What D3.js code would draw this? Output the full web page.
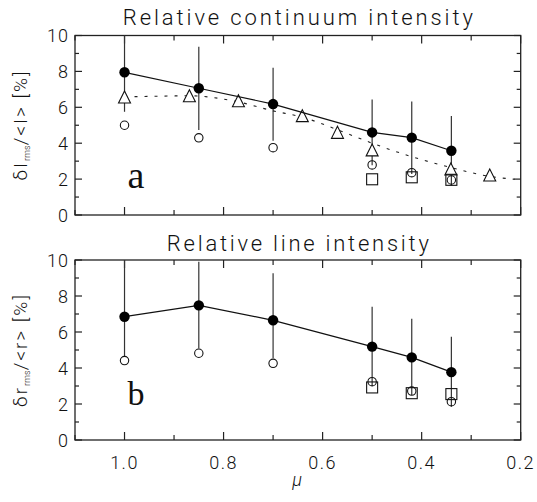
<!DOCTYPE html>
<html>
<head>
<meta charset="utf-8">
<title>Relative intensity</title>
<script src="https://cdn.jsdelivr.net/npm/d3@7"></script>
<style>
  body { margin: 0; background: #fff; }
  text { font-family: "Roboto", "Liberation Sans", "DejaVu Sans", sans-serif; font-weight: 300; fill: #111; }
  .frame { fill: none; stroke: #222; stroke-width: 1.3; }
  .tick { stroke: #222; stroke-width: 1.2; }
</style>
</head>
<body>
<div id="chart"></div>
<script>
// mu positions of the six observed points
var mu = [1.0, 0.85, 0.7, 0.5, 0.42, 0.34];
var squareMu = [0.5, 0.42, 0.34];

// panel a: relative continuum intensity
var contFilled = [7.95, 7.06, 6.18, 4.6, 4.31, 3.58];
var contHi = [10.3, 9.38, 8.2, 6.43, 6.33, 5.52];
var contLo = [5.75, 4.74, 4.14, 2.77, 2.29, 1.64];
var contOpen = [5.0, 4.3, 3.75, 2.79, 2.36, 1.95];
var contSquare = [1.99, 2.1, 1.96];
var triMu = [1.0, 0.869, 0.77, 0.641, 0.57, 0.5, 0.341, 0.2625];
var triVal = [6.52, 6.59, 6.31, 5.48, 4.55, 3.57, 2.51, 2.17];
var fitMu = [1.0, 0.93, 0.87, 0.77, 0.7, 0.641, 0.57, 0.5, 0.42, 0.34, 0.2625, 0.212];
var fitVal = [6.58, 6.62, 6.64, 6.3, 5.8, 5.45, 4.75, 4.0, 3.25, 2.64, 2.15, 1.99];

// panel b: relative line intensity
var lineFilled = [6.85, 7.48, 6.65, 5.19, 4.59, 3.77];
var lineHi = [10.5, 9.9, 9.26, 7.4, 6.73, 5.74];
var lineLo = [4.63, 5.09, 4.54, 3.0, 2.5, 1.85];
var lineOpen = [4.41, 4.82, 4.26, 3.24, 2.72, 2.13];
var lineSquare = [2.92, 2.6, 2.55];

var xTickLabels = [1.0, 0.8, 0.6, 0.4, 0.2];
var yTickLabels = [0, 2, 4, 6, 8, 10];

var W = 537, H = 502;
var svg = d3.select("#chart").append("svg")
    .attr("width", W).attr("height", H);

var x = d3.scaleLinear().domain([1.1, 0.2]).range([75, 520.7]);

function panel(opt) {
  var y = d3.scaleLinear().domain([0, 10]).range([opt.bottom, opt.top]).clamp(true);
  var g = svg.append("g");

  // title
  g.append("text")
      .attr("x", (x.range()[0] + x.range()[1]) / 2)
      .attr("y", opt.titleY)
      .attr("text-anchor", "middle")
      .attr("textLength", opt.titleLen)
      .attr("lengthAdjust", "spacing")
      .style("font-size", "22px")
      .text(opt.title);

  // ticks, x every 0.1 (longer at 0.2 steps), y every 1 (longer at 2 steps)
  var xt = d3.range(11, 1, -1).map(function(d) { return d / 10; });
  xt.forEach(function(v) {
    var len = (Math.round(v * 10) % 2 === 0) ? 8 : 5;
    g.append("line").attr("class", "tick")
      .attr("x1", x(v)).attr("x2", x(v))
      .attr("y1", opt.bottom).attr("y2", opt.bottom - len);
    g.append("line").attr("class", "tick")
      .attr("x1", x(v)).attr("x2", x(v))
      .attr("y1", opt.top).attr("y2", opt.top + len);
  });
  d3.range(0, 11).forEach(function(v) {
    var len = (v % 2 === 0) ? 7 : 4;
    g.append("line").attr("class", "tick")
      .attr("x1", x.range()[0]).attr("x2", x.range()[0] + len)
      .attr("y1", y(v)).attr("y2", y(v));
    g.append("line").attr("class", "tick")
      .attr("x1", x.range()[1]).attr("x2", x.range()[1] - len)
      .attr("y1", y(v)).attr("y2", y(v));
  });

  g.append("rect").attr("class", "frame")
      .attr("x", x.range()[0]).attr("y", opt.top)
      .attr("width", x.range()[1] - x.range()[0])
      .attr("height", opt.bottom - opt.top);

  g.selectAll(".ylab").data(yTickLabels).enter().append("text")
      .attr("x", 69).attr("y", function(d) { return y(d) + 6.5; })
      .attr("text-anchor", "end")
      .style("font-size", "18px")
      .style("letter-spacing", "1px")
      .text(function(d) { return d; });

  // y axis title, rotated
  var yt = g.append("text")
      .attr("transform", "translate(27," + opt.labelY + ") rotate(-90)")
      .attr("text-anchor", "middle")
      .style("font-size", "19px")
      .style("letter-spacing", "2px");
  yt.append("tspan").text(opt.sym);
  yt.append("tspan").attr("dy", 3).style("font-size", "9px")
      .style("letter-spacing", "0px").text("rms");
  yt.append("tspan").attr("dy", -3).text("/<" + opt.sym.slice(1) + ">  [%]");

  // panel letter
  g.append("text")
      .attr("x", 136).attr("y", opt.letterY)
      .attr("text-anchor", "middle")
      .style("font-family", "'Liberation Serif', serif")
      .style("font-weight", "normal")
      .style("font-size", opt.letterSize + "px")
      .text(opt.letter);

  // error bars
  g.selectAll(".err").data(mu).enter().append("line")
      .attr("x1", function(d) { return x(d); })
      .attr("x2", function(d) { return x(d); })
      .attr("y1", function(d, i) { return y(opt.hi[i]); })
      .attr("y2", function(d, i) { return y(opt.lo[i]); })
      .attr("stroke", "#333").attr("stroke-width", 1.2);

  // optional dotted fit + triangles
  if (opt.fitMu) {
    g.append("path")
        .datum(opt.fitMu.map(function(d, i) { return [d, opt.fitVal[i]]; }))
        .attr("d", d3.line()
          .x(function(d) { return x(d[0]); })
          .y(function(d) { return y(d[1]); })
          .curve(d3.curveMonotoneX))
        .attr("fill", "none").attr("stroke", "#222")
        .attr("stroke-width", 1.1).attr("stroke-dasharray", "3,7");
    g.selectAll(".tri").data(opt.triMu).enter().append("path")
        .attr("transform", function(d, i) {
          return "translate(" + x(d) + "," + y(opt.triVal[i]) + ")";
        })
        .attr("d", "M0,-7L6,5L-6,5Z")
        .attr("fill", "#fff").attr("stroke", "#111").attr("stroke-width", 1.1);
  }

  // squares
  g.selectAll(".sq").data(squareMu).enter().append("rect")
      .attr("x", function(d) { return x(d) - 5.5; })
      .attr("y", function(d, i) { return y(opt.square[i]) - 5.5; })
      .attr("width", 11).attr("height", 11)
      .attr("fill", "none").attr("stroke", "#111").attr("stroke-width", 1.1);

  // open circles
  g.selectAll(".oc").data(mu).enter().append("circle")
      .attr("cx", function(d) { return x(d); })
      .attr("cy", function(d, i) { return y(opt.open[i]); })
      .attr("r", 4.2)
      .attr("fill", "none").attr("stroke", "#111").attr("stroke-width", 1.1);

  // solid line + filled circles
  g.append("path")
      .datum(mu.map(function(d, i) { return [d, opt.filled[i]]; }))
      .attr("d", d3.line()
        .x(function(d) { return x(d[0]); })
        .y(function(d) { return y(d[1]); }))
      .attr("fill", "none").attr("stroke", "#111").attr("stroke-width", 1.2);
  g.selectAll(".fc").data(mu).enter().append("circle")
      .attr("cx", function(d) { return x(d); })
      .attr("cy", function(d, i) { return y(opt.filled[i]); })
      .attr("r", 5.2).attr("fill", "#000");

  return y;
}

panel({
  top: 35.5, bottom: 215, titleY: 25, titleLen: 350,
  title: "Relative continuum intensity",
  sym: "\u03b4I", labelY: 125, letter: "a", letterY: 188, letterSize: 38,
  filled: contFilled, hi: contHi, lo: contLo, open: contOpen, square: contSquare,
  triMu: triMu, triVal: triVal, fitMu: fitMu, fitVal: fitVal
});

panel({
  top: 260, bottom: 440, titleY: 251, titleLen: 262,
  title: "Relative line intensity",
  sym: "\u03b4r", labelY: 350, letter: "b", letterY: 405, letterSize: 34,
  filled: lineFilled, hi: lineHi, lo: lineLo, open: lineOpen, square: lineSquare
});

// x tick labels (bottom panel only)
svg.selectAll(".xlab").data(xTickLabels).enter().append("text")
    .attr("x", function(d) { return x(d); })
    .attr("y", 468.5)
    .attr("text-anchor", "middle")
    .style("font-size", "18px")
    .style("letter-spacing", "1.5px")
    .text(function(d) { return d.toFixed(1); });

svg.append("text")
    .attr("x", 297).attr("y", 486)
    .attr("text-anchor", "middle")
    .style("font-size", "18px").style("font-style", "italic")
    .text("\u03bc");
</script>
</body>
</html>
